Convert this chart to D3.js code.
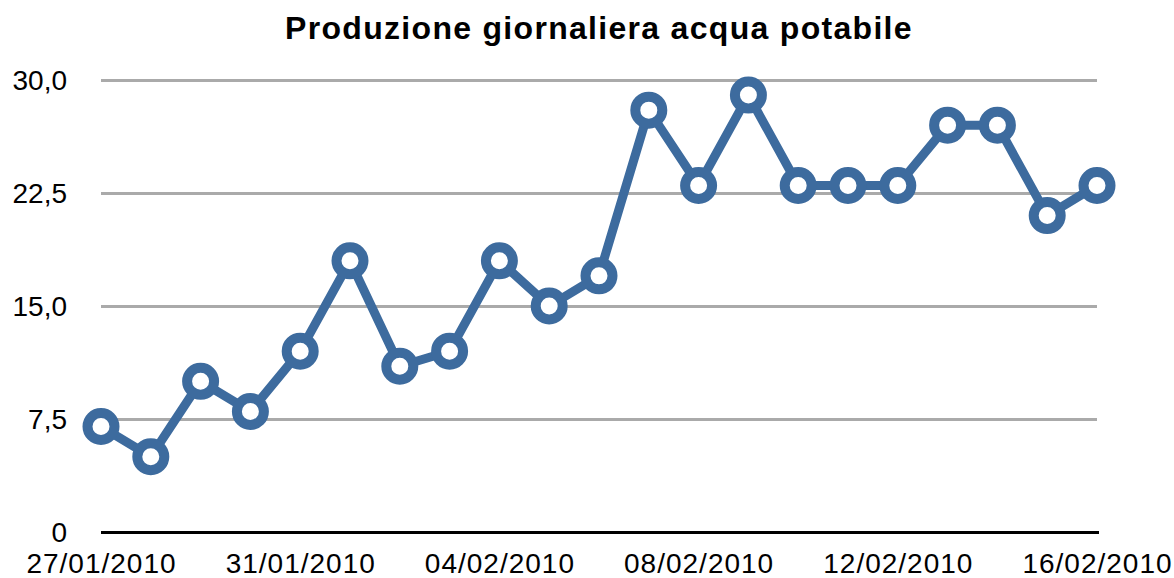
<!DOCTYPE html>
<html>
<head>
<meta charset="utf-8">
<style>
    body { margin: 0; background: #fff; }
    svg text { font-family: "Liberation Sans", Arial, Helvetica, sans-serif; fill: #000; }
</style>
</head>
<body>
<svg id="chart" width="1174" height="578"></svg>

<script src="https://d3js.org/d3.v7.min.js"></script>
<script>
    var title = "Produzione giornaliera acqua potabile"
    var dates = ["27/01/2010", "28/01/2010", "29/01/2010", "30/01/2010", "31/01/2010",
        "01/02/2010", "02/02/2010", "03/02/2010", "04/02/2010", "05/02/2010",
        "06/02/2010", "07/02/2010", "08/02/2010", "09/02/2010", "10/02/2010",
        "11/02/2010", "12/02/2010", "13/02/2010", "14/02/2010", "15/02/2010", "16/02/2010"]
    var values = [7, 5, 10, 8, 12, 18, 11, 12, 18, 15, 17, 28, 23, 29, 23, 23, 23, 27, 27, 21, 23]
    var xTicks = ["27/01/2010", "31/01/2010", "04/02/2010", "08/02/2010", "12/02/2010", "16/02/2010"]
    var yTicks = [0, 7.5, 15, 22.5, 30]
    var yTickLabels = ["0", "7,5", "15,0", "22,5", "30,0"]

    var parse = d3.timeParse("%d/%m/%Y")
    var data = dates.map(function(d, i) { return { date: parse(d), value: values[i] } })

    var svg = d3.select("#chart")
    var blue = "#3d6b9e"

    var x = d3.scaleTime()
        .domain(d3.extent(data, function(d) { return d.date }))
        .range([101, 1097])

    var y = d3.scaleLinear()
        .domain([0, 30])
        .range([532, 80])

    // grid + y labels
    var yAxis = d3.axisLeft(y)
        .tickValues(yTicks)
        .tickSize(-(1097 - 101))
        .tickPadding(34)
        .tickFormat(function(d, i) { return yTickLabels[i] })

    var gy = svg.append("g")
        .attr("transform", "translate(101,0)")
        .call(yAxis)
    gy.select(".domain").remove()
    gy.selectAll(".tick line")
        .attr("stroke", function(d) { return d === 0 ? "#000" : "#aaa" })
        .attr("stroke-width", 3)
        .attr("x2", function(d) { return d === 0 ? 998 : 996 })
    gy.selectAll(".tick text")
        .attr("font-size", 28)
        .attr("dy", "0.35em")
    gy.selectAll(".tick").filter(function(d) { return d === 0 }).raise()

    var xAxis = d3.axisBottom(x)
        .tickValues(xTicks.map(parse))
        .tickSize(0)
        .tickPadding(0)
        .tickFormat(d3.timeFormat("%d/%m/%Y"))

    var gx = svg.append("g")
        .attr("transform", "translate(0,532)")
        .call(xAxis)
    gx.select(".domain").remove()
    gx.selectAll(".tick text")
        .attr("font-size", 28)
        .attr("letter-spacing", 1)
        .attr("y", 41)
        .attr("dy", 0)

    var line = d3.line()
        .x(function(d) { return x(d.date) })
        .y(function(d) { return y(d.value) })

    svg.append("path")
        .datum(data)
        .attr("fill", "none")
        .attr("stroke", blue)
        .attr("stroke-width", 9)
        .attr("stroke-linejoin", "round")
        .attr("d", line)

    svg.selectAll(".dot")
        .data(data)
        .enter().append("circle")
        .attr("class", "dot")
        .attr("cx", function(d) { return x(d.date) })
        .attr("cy", function(d) { return y(d.value) })
        .attr("r", 13.5)
        .attr("fill", "#fff")
        .attr("stroke", blue)
        .attr("stroke-width", 10)

    svg.append("text")
        .attr("x", 599)
        .attr("y", 39)
        .attr("text-anchor", "middle")
        .attr("font-size", 32)
        .attr("font-weight", "bold")
        .attr("letter-spacing", 1.3)
        .text(title)
</script>
</body>
</html>
